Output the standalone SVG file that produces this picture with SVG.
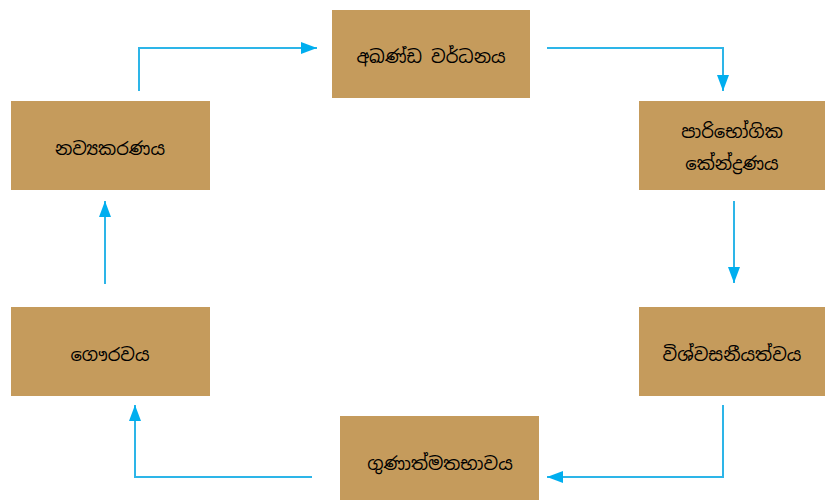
<svg xmlns="http://www.w3.org/2000/svg" width="825" height="500" viewBox="0 0 825 500">
<style>
.box{fill:#C59B5C;}
.lbl{font-family:"Noto Sans Sinhala","Noto Sans","DejaVu Sans",sans-serif;font-size:18px;fill:#000;text-anchor:middle;dominant-baseline:central;}
.con{fill:none;stroke:#2DB5E8;stroke-width:2;}
</style>
<defs>
<marker id="arr" viewBox="0 0 16 12" refX="16" refY="6" markerWidth="16" markerHeight="12" markerUnits="userSpaceOnUse" orient="auto">
<path d="M0,0 L16,6 L0,12 Z" fill="#00AEEF"/>
</marker>
</defs>
<rect width="825" height="500" fill="#fff"/>
<g id="n1"><rect class="box" x="332" y="10" width="198" height="88"/><text class="lbl" x="431" y="56">අඛණ්ඩ වර්ධනය</text></g>
<g id="n2"><rect class="box" x="639" y="101" width="186" height="89"/><text class="lbl" x="732" y="131">පාරිභෝගික</text><text class="lbl" x="732" y="163">කේන්ද්‍රණය</text></g>
<g id="n3"><rect class="box" x="639" y="307" width="186" height="89"/><text class="lbl" x="732" y="354">විශ්වසනීයත්වය</text></g>
<g id="n4"><rect class="box" x="340" y="416" width="199" height="89"/><text class="lbl" x="440" y="463">ගුණාත්මතභාවය</text></g>
<g id="n5"><rect class="box" x="11" y="307" width="199" height="89"/><text class="lbl" x="110" y="354">ගෞරවය</text></g>
<g id="n6"><rect class="box" x="11" y="101" width="199" height="89"/><text class="lbl" x="110" y="148">නව්‍යකරණය</text></g>
<g id="connectors">
<path class="con" d="M139,91 V48 H317" marker-end="url(#arr)"/>
<path class="con" d="M547,48 H723 V91" marker-end="url(#arr)"/>
<path class="con" d="M734,201 V283" marker-end="url(#arr)"/>
<path class="con" d="M723,405 V477 H547" marker-end="url(#arr)"/>
<path class="con" d="M312,477 H135 V405" marker-end="url(#arr)"/>
<path class="con" d="M105,284 V201" marker-end="url(#arr)"/>
</g>
</svg>
